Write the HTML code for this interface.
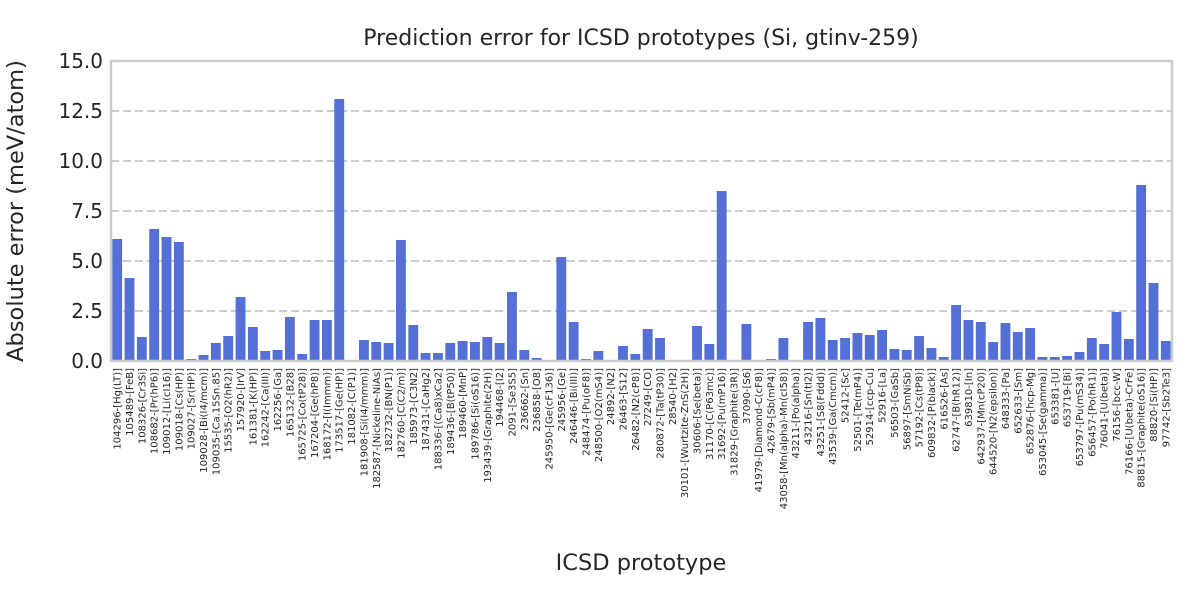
<!DOCTYPE html>
<html><head><meta charset="utf-8"><style>
body{margin:0;background:#fff;font-family:"Liberation Sans","DejaVu Sans",sans-serif;}
</style></head><body>
<svg id="chart" width="1200" height="600" xmlns="http://www.w3.org/2000/svg" font-family="DejaVu Sans, Liberation Sans, sans-serif">
<text x="641" y="45" text-anchor="middle" font-size="22" fill="#262626">Prediction error for ICSD prototypes (Si, gtinv-259)</text>
<text transform="translate(23,211) rotate(-90)" text-anchor="middle" font-size="22.5" fill="#262626">Absolute error (meV/atom)</text>
<text x="641" y="570" text-anchor="middle" font-size="22.5" fill="#262626">ICSD prototype</text>
<g id="grid"></g><g id="bars"></g><g id="yticks"></g><g id="xticks"></g>
<rect x="111" y="61" width="1061" height="300" fill="none" stroke="#cccccc" stroke-width="2.5"/>
</svg>
<script>
const categories=["104296-[Hg(LT)]","105489-[FeB]","108326-[Cr3Si]","108682-[Pr(hP6)]","109012-[Li(cI16)]","109018-[Cs(HP)]","109027-[Sr(HP)]","109028-[Bi(I4/mcm)]","109035-[Ca.15Sn.85]","15535-[O2(hR2)]","157920-[IrV]","161381-[K(HP)]","162242-[Ca(III)]","162256-[Ga]","165132-[B28]","165725-[Co(tP28)]","167204-[Ge(hP8)]","168172-[I(Immm)]","173517-[Ge(HP)]","181082-[C(P1)]","181908-[Si(I4/mmm)]","182587-[Nickeline-NiAs]","182732-[BN(P1)]","182760-[C(C2/m)]","185973-[C3N2]","187431-[CaHg2]","188336-[(Ca8)xCa2]","189436-[B(tP50)]","189460-[MnP]","189786-[Si(oS16)]","193439-[Graphite(2H)]","194468-[I2]","2091-[Se3S5]","236662-[Sn]","236858-[O8]","245950-[Ge(cF136)]","245956-[Ge]","246446-[Bi(III)]","248474-[Pu(oF8)]","248500-[O2(mS4)]","24892-[N2]","26463-[S12]","26482-[N2(cP8)]","27249-[CO]","280872-[Ta(tP30)]","28540-[H2]","30101-[Wurtzite-ZnS(2H)]","30606-[Se(beta)]","31170-[C(P63mc)]","31692-[Pu(mP16)]","31829-[Graphite(3R)]","37090-[S6]","41979-[Diamond-C(cF8)]","42679-[Sb(mP4)]","43058-[Mn(alpha)-Mn(cI58)]","43211-[Po(alpha)]","43216-[Sn(tI2)]","43251-[S8(Fddd)]","43539-[Ga(Cmcm)]","52412-[Sc]","52501-[Te(mP4)]","52914-[ccp-Cu]","52916-[La]","56503-[GaSb]","56897-[SmNiSb]","57192-[Cs(tP8)]","609832-[P(black)]","616526-[As]","62747-[B(hR12)]","639810-[In]","642937-[Mn(cP20)]","644520-[N2(epsilon)]","648333-[Pa]","652633-[Sm]","652876-[hcp-Mg]","653045-[Se(gamma)]","653381-[U]","653719-[Bi]","653797-[Pu(mS34)]","656457-[Po(hR1)]","76041-[U(beta)]","76156-[bcc-W]","76166-[U(beta)-CrFe]","88815-[Graphite(oS16)]","88820-[Si(HP)]","97742-[Sb2Te3]"];
const errors=[6.1,4.15,1.2,6.6,6.2,5.95,0.1,0.3,0.9,1.25,3.2,1.7,0.5,0.55,2.2,0.35,2.05,2.05,13.1,0,1.05,0.95,0.9,6.05,1.8,0.4,0.4,0.9,1.0,0.95,1.2,0.9,3.45,0.55,0.15,0,5.2,1.95,0.1,0.5,0,0.75,0.35,1.6,1.15,0,0,1.75,0.85,8.5,0,1.85,0,0.1,1.15,0,1.95,2.15,1.05,1.15,1.4,1.3,1.55,0.6,0.55,1.25,0.65,0.2,2.8,2.05,1.95,0.95,1.9,1.45,1.65,0.2,0.2,0.25,0.45,1.15,0.85,2.45,1.1,8.8,3.9,1.0];
const yTicks=[0,2.5,5,7.5,10,12.5,15];
const yTickLabels=["0.0","2.5","5.0","7.5","10.0","12.5","15.0"];
const X0=111,X1=1172,Y0=361,Y1=61,YMAX=15;
const NS="http://www.w3.org/2000/svg";
const step=(X1-X0)/categories.length;
function xs(i){return X0+(i+0.5)*step;}
function ys(v){return Y0-(v/YMAX)*(Y0-Y1);}
function mk(t,a,p){const e=document.createElementNS(NS,t);for(const k in a)e.setAttribute(k,a[k]);p.appendChild(e);return e;}
const grid=document.getElementById('grid'),bars=document.getElementById('bars'),yt=document.getElementById('yticks'),xt=document.getElementById('xticks');
yTicks.forEach((v,i)=>{
  if(v>0&&v<YMAX){const g=mk('line',{x1:X0,x2:X1,y1:ys(v),y2:ys(v),stroke:'#cccccc','stroke-width':2,'stroke-dasharray':'8,4'},grid);
  
  }
  const t=mk('text',{x:X0-8,y:ys(v)+7,'text-anchor':'end','font-size':20,fill:'#262626'},yt);
  t.textContent=yTickLabels[i];
  
  
});
const bw=step*0.8;
errors.forEach((v,i)=>{
  const r=mk('rect',{x:xs(i)-bw/2,y:ys(v),width:bw,height:Y0-ys(v),fill:'#5470d6'},bars);
  
  
});
categories.forEach((c,i)=>{
  const x=xs(i)+3.5;
  const t=mk('text',{transform:`translate(${x},368) rotate(-90)`,'text-anchor':'end','font-size':10,fill:'#262626'},xt);
  t.textContent=c;
  
  
});
</script>
</body></html>
